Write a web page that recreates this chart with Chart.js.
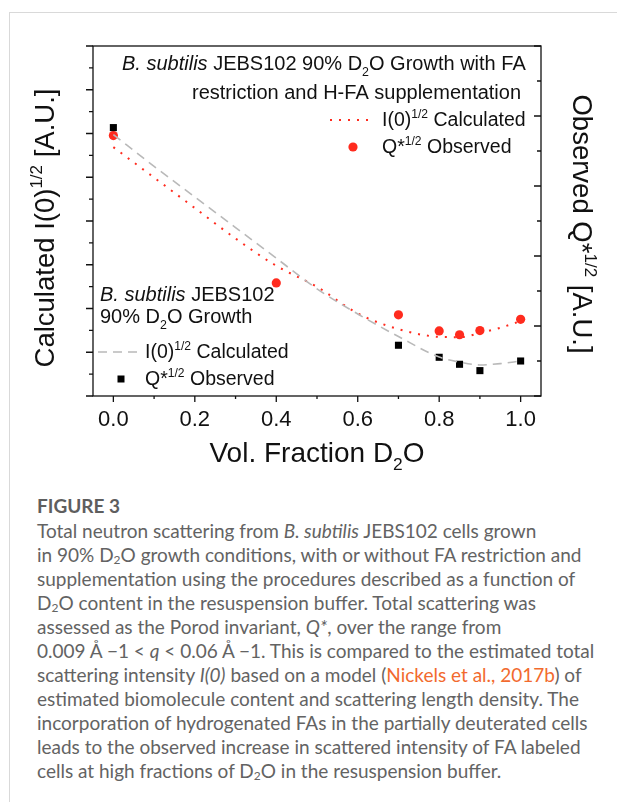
<!DOCTYPE html>
<html lang="en">
<head>
    <meta charset="UTF-8">
    <title>Figure 3</title>
    <script src="https://cdn.jsdelivr.net/npm/chart.js"></script>
    <style>
        body {
            margin: 0;
            background: #fff;
            width: 617px;
            height: 802px;
            overflow: hidden;
            position: relative;
        }
        .card {
            position: absolute;
            left: 9px;
            top: 12px;
            width: 700px;
            height: 900px;
            border-top: 1px solid #d9d9d9;
            border-left: 1px solid #d9d9d9;
        }
        #chart {
            position: absolute;
            left: 0;
            top: 0;
        }
        .caption {
            position: absolute;
            left: 37px;
            top: 494px;
            font-family: Lato, "Open Sans", sans-serif;
            color: #636363;
            white-space: nowrap;
        }
        .caption h3 {
            margin: 0 0 2px 0;
            font-size: 19px;
            font-weight: bold;
            line-height: 23px;
            color: #5e5e5e;
        }
        .caption p {
            margin: 0;
            font-size: 19px;
            line-height: 24px;
        }
        .caption sub {
            font-size: 12px;
            vertical-align: -2px;
            line-height: 0;
        }
        .caption a {
            color: #f26a2e;
            text-decoration: none;
        }
    </style>
</head>
<body>
    <div class="card"></div>
    <canvas id="chart" width="617" height="480"></canvas>
    <div class="caption">
        <h3>FIGURE 3</h3>
        <p>Total neutron scattering from <i>B. subtilis</i> JEBS102 cells grown<br>
        in 90% D<sub>2</sub>O growth conditions, with or without FA restriction and<br>
        supplementation using the procedures described as a function of<br>
        D<sub>2</sub>O content in the resuspension buffer. Total scattering was<br>
        assessed as the Porod invariant, <i>Q*</i>, over the range from<br>
        0.009 Å −1 &lt; <i>q</i> &lt; 0.06 Å −1. This is compared to the estimated total<br>
        scattering intensity <i>I(0)</i> based on a model (<a>Nickels et al., 2017b</a>) of<br>
        estimated biomolecule content and scattering length density. The<br>
        incorporation of hydrogenated FAs in the partially deuterated cells<br>
        leads to the observed increase in scattered intensity of FA labeled<br>
        cells at high fractions of D<sub>2</sub>O in the resuspension buffer.</p>
    </div>

    <script>
        // vol. fraction D2O
        const fracH = [0, 0.7, 0.8, 0.85, 0.9, 1.0];
        const fracFA = [0, 0.4, 0.7, 0.8, 0.85, 0.9, 1.0];
        const fracCalc = [0, 0.1, 0.2, 0.3, 0.4, 0.5, 0.6, 0.7, 0.8, 0.85, 0.9, 0.95, 1.0];

        // 90% D2O growth (left axis)
        const obsH = [12.27, 2.32, 1.77, 1.45, 1.16, 1.6];
        const calcH = [11.95, 10.5, 9.1, 7.7, 6.3, 4.9, 3.75, 2.72, 1.78, 1.55, 1.42, 1.48, 1.6];

        // FA restriction + H-FA supplementation (right axis)
        const obsFA = [7.44, 3.23, 2.32, 1.86, 1.75, 1.87, 2.19];
        const calcFA = [7.11, 6.24, 5.37, 4.5, 3.72, 3.12, 2.36, 1.91, 1.69, 1.68, 1.8, 1.95, 2.14];

        const xTicks = [0, 0.2, 0.4, 0.6, 0.8, 1.0];

        const RED = '#ff2b1e';
        const GREY = '#b9b9b9';
        const FONT = '"Liberation Sans", Arial, sans-serif';

        function pts(xs, ys) {
            return xs.map((x, i) => ({ x: x, y: ys[i] }));
        }

        // draws text made of pieces: italic / subscript / superscript
        function segFont(s, size) {
            let sz = (s.sub || s.sup) ? size * 0.62 : size;
            return (s.i ? 'italic ' : '') + sz + 'px ' + FONT;
        }
        function drawRich(ctx, segs, x, y, size, align) {
            let w = 0;
            segs.forEach(s => { ctx.font = segFont(s, size); w += ctx.measureText(s.t).width; });
            let cx = align === 'center' ? x - w / 2 : (align === 'right' ? x - w : x);
            ctx.textAlign = 'left';
            ctx.textBaseline = 'alphabetic';
            segs.forEach(s => {
                ctx.font = segFont(s, size);
                let dy = s.sub ? size * 0.3 : (s.sup ? -size * 0.42 : 0);
                ctx.fillText(s.t, cx, y + dy);
                cx += ctx.measureText(s.t).width;
            });
        }

        const decor = {
            id: 'decor',
            afterDraw(chart) {
                const ctx = chart.ctx;
                const a = chart.chartArea;
                const sx = chart.scales.x, sl = chart.scales.yL, sr = chart.scales.yR;
                ctx.save();
                ctx.strokeStyle = '#111';
                ctx.lineWidth = 1.3;
                ctx.strokeRect(a.left, a.top, a.right - a.left, a.bottom - a.top);

                ctx.beginPath();
                for (let v = 0; v <= 16; v++) {
                    let y = sl.getPixelForValue(v), len = v % 2 === 0 ? 7 : 4;
                    ctx.moveTo(a.left - len, y); ctx.lineTo(a.left, y);
                }
                for (let v = 0; v <= 10; v++) {
                    let y = sr.getPixelForValue(v), len = v % 2 === 0 ? 7 : 4;
                    ctx.moveTo(a.right - len, y); ctx.lineTo(a.right, y);
                }
                for (let k = 0; k <= 10; k++) {
                    let x = sx.getPixelForValue(k / 10), len = k % 2 === 0 ? 6 : 3;
                    ctx.moveTo(x, a.bottom); ctx.lineTo(x, a.bottom + len);
                }
                ctx.stroke();

                ctx.fillStyle = '#111';
                // axis titles
                drawRich(ctx, [{ t: 'Vol. Fraction D' }, { t: '2', sub: true }, { t: 'O' }],
                    (a.left + a.right) / 2, 462, 28, 'center');
                ctx.save();
                ctx.translate(54, 228);
                ctx.rotate(-Math.PI / 2);
                drawRich(ctx, [{ t: 'Calculated I(0)' }, { t: '1/2', sup: true }, { t: ' [A.U.]' }], 0, 0, 27.5, 'center');
                ctx.restore();
                ctx.save();
                ctx.translate(573, 224);
                ctx.rotate(Math.PI / 2);
                drawRich(ctx, [{ t: 'Observed Q*' }, { t: '1/2', sup: true }, { t: ' [A.U.]' }], 0, 0, 27.5, 'center');
                ctx.restore();

                // annotations + legends
                const L = a.left, T = a.top;
                const fs = 20;
                drawRich(ctx, [{ t: 'B. subtilis', i: true }, { t: ' JEBS102 90% D' }, { t: '2', sub: true }, { t: 'O Growth with FA' }],
                    L + 29, T + 24, fs, 'left');
                drawRich(ctx, [{ t: 'restriction and H-FA supplementation' }], L + 99, T + 53, fs, 'left');
                drawRich(ctx, [{ t: 'I(0)' }, { t: '1/2', sup: true }, { t: ' Calculated' }], L + 289, T + 80, 19.5, 'left');
                drawRich(ctx, [{ t: 'Q*' }, { t: '1/2', sup: true }, { t: ' Observed' }], L + 289, T + 107, 19.5, 'left');

                drawRich(ctx, [{ t: 'B. subtilis', i: true }, { t: ' JEBS102' }], L + 7, T + 255, fs, 'left');
                drawRich(ctx, [{ t: '90% D' }, { t: '2', sub: true }, { t: 'O Growth' }], L + 7, T + 277, fs, 'left');
                drawRich(ctx, [{ t: 'I(0)' }, { t: '1/2', sup: true }, { t: ' Calculated' }], L + 52, T + 312, 19.5, 'left');
                drawRich(ctx, [{ t: 'Q*' }, { t: '1/2', sup: true }, { t: ' Observed' }], L + 52, T + 339, 19.5, 'left');

                // legend symbols
                ctx.lineWidth = 2;
                ctx.strokeStyle = RED;
                ctx.setLineDash([2, 7]);
                ctx.beginPath(); ctx.moveTo(L + 237, T + 74); ctx.lineTo(L + 279, T + 74); ctx.stroke();
                ctx.strokeStyle = GREY;
                ctx.lineWidth = 1.6;
                ctx.setLineDash([9, 6]);
                ctx.beginPath(); ctx.moveTo(L + 5, T + 306); ctx.lineTo(L + 44, T + 306); ctx.stroke();
                ctx.setLineDash([]);
                ctx.fillStyle = RED;
                ctx.beginPath(); ctx.arc(L + 260, T + 101, 4.6, 0, Math.PI * 2); ctx.fill();
                ctx.fillStyle = '#000';
                ctx.fillRect(L + 24.5, T + 329.5, 7, 7);
                ctx.restore();
            }
        };

        new Chart(document.getElementById('chart'), {
            type: 'scatter',
            data: {
                datasets: [
                    {
                        type: 'line', data: pts(fracCalc, calcH), yAxisID: 'yL',
                        borderColor: GREY, borderWidth: 1.6, borderDash: [9, 6],
                        pointRadius: 0, cubicInterpolationMode: 'monotone', fill: false
                    },
                    {
                        type: 'line', data: pts(fracCalc, calcFA), yAxisID: 'yR',
                        borderColor: RED, borderWidth: 2, borderDash: [2, 7],
                        pointRadius: 0, cubicInterpolationMode: 'monotone', fill: false
                    },
                    {
                        data: pts(fracH, obsH), yAxisID: 'yL',
                        pointStyle: 'rect', pointRadius: 5, borderWidth: 0,
                        backgroundColor: '#000', borderColor: '#000'
                    },
                    {
                        data: pts(fracFA, obsFA), yAxisID: 'yR',
                        pointStyle: 'circle', pointRadius: 4.6, borderWidth: 0,
                        backgroundColor: RED, borderColor: RED
                    }
                ]
            },
            options: {
                responsive: false,
                animation: false,
                devicePixelRatio: 1,
                layout: { padding: { top: 46, left: 0, right: 0, bottom: 0 } },
                plugins: { legend: { display: false }, tooltip: { enabled: false } },
                scales: {
                    x: {
                        type: 'linear', min: -0.05, max: 1.05,
                        grid: { display: false, drawTicks: false },
                        border: { display: false },
                        afterBuildTicks: s => { s.ticks = xTicks.map(v => ({ value: v })); },
                        afterFit: s => { s.height = 84; },
                        ticks: {
                            padding: 11, color: '#111',
                            font: { family: FONT, size: 22 },
                            callback: v => v.toFixed(1)
                        }
                    },
                    yL: {
                        type: 'linear', position: 'left', min: 0, max: 16,
                        grid: { display: false }, border: { display: false },
                        ticks: { display: false },
                        afterFit: s => { s.width = 93; }
                    },
                    yR: {
                        type: 'linear', position: 'right', min: 0, max: 10,
                        grid: { display: false }, border: { display: false },
                        ticks: { display: false },
                        afterFit: s => { s.width = 76; }
                    }
                }
            },
            plugins: [decor]
        });
    </script>
</body>
</html>
